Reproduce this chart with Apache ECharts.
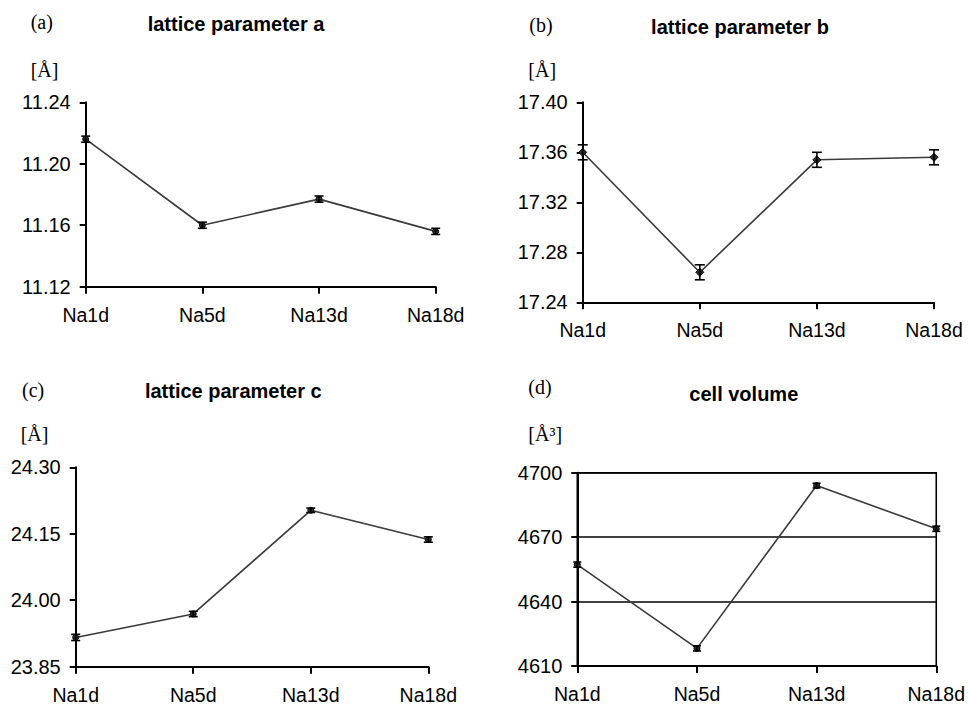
<!DOCTYPE html>
<html>
<head>
<meta charset="utf-8">
<script src="https://cdn.jsdelivr.net/npm/echarts@6/dist/echarts.min.js"></script>
<style>
  html, body { margin: 0; padding: 0; background: #fff; }
  #chart { width: 968px; height: 706px; }
</style>
</head>
<body>
<div id="chart"></div>
<script>
// Samples (x axis) shared by all four panels
const categories = ['Na1d', 'Na5d', 'Na13d', 'Na18d'];

// Lattice parameter a [Å] and its uncertainty
const latticeA = [11.216, 11.160, 11.177, 11.156];
const latticeAErr = [0.002, 0.002, 0.002, 0.002];

// Lattice parameter b [Å]
const latticeB = [17.360, 17.264, 17.354, 17.356];
const latticeBErr = [0.006, 0.006, 0.006, 0.006];

// Lattice parameter c [Å]
const latticeC = [23.916, 23.969, 24.203, 24.137];
const latticeCErr = [0.007, 0.006, 0.005, 0.006];

// Cell volume [Å³]
const cellVolume = [4657.2, 4618.2, 4694.0, 4673.9];
const cellVolumeErr = [1.2, 1.2, 1.1, 1.2];

// Value axis ranges: [min, max, interval]
const rangeA = [11.12, 11.24, 0.04];
const rangeB = [17.24, 17.40, 0.04];
const rangeC = [23.85, 24.30, 0.15];
const rangeV = [4610, 4700, 30];

const SANS = 'Liberation Sans, Arial, sans-serif';
const SERIF = 'Liberation Serif, Times New Roman, serif';

const panels = [
  { values: latticeA, errs: latticeAErr, range: rangeA, digits: 2, symbol: 'circle', size: 6, cap: 4.5,
    grid: { left: 85.7, top: 102.3, width: 350, height: 184.4 } },
  { values: latticeB, errs: latticeBErr, range: rangeB, digits: 2, symbol: 'diamond', size: 8, cap: 5,
    grid: { left: 582.7, top: 102.3, width: 351.3, height: 200 } },
  { values: latticeC, errs: latticeCErr, range: rangeC, digits: 2, symbol: 'circle', size: 6, cap: 4.5,
    grid: { left: 75.7, top: 467.3, width: 352.6, height: 199.4 } },
  { values: cellVolume, errs: cellVolumeErr, range: rangeV, digits: 0, symbol: 'circle', size: 6, cap: 4,
    grid: { left: 577.3, top: 472.7, width: 362, height: 193.3 }, boxed: true }
];

function errorBarRenderer(capHalf) {
  return function (params, api) {
    const idx = api.value(0);
    const lo = api.coord([idx, api.value(1)]);
    const hi = api.coord([idx, api.value(2)]);
    const style = { stroke: '#000', lineWidth: 1.6 };
    return {
      type: 'group',
      children: [
        { type: 'line', shape: { x1: lo[0], y1: lo[1], x2: hi[0], y2: hi[1] }, style },
        { type: 'line', shape: { x1: hi[0] - capHalf, y1: hi[1], x2: hi[0] + capHalf, y2: hi[1] }, style },
        { type: 'line', shape: { x1: lo[0] - capHalf, y1: lo[1], x2: lo[0] + capHalf, y2: lo[1] }, style }
      ]
    };
  };
}

const grids = [], xAxes = [], yAxes = [], series = [];
panels.forEach((p, i) => {
  grids.push(Object.assign({
    show: !!p.boxed,
    borderColor: '#000',
    borderWidth: 1.6,
    containLabel: false
  }, p.grid));
  xAxes.push({
    type: 'category',
    gridIndex: i,
    data: categories,
    boundaryGap: false,
    axisLine: { lineStyle: { color: '#000', width: 2 } },
    axisTick: { show: true, length: 7, inside: false, lineStyle: { color: '#000', width: 2 } },
    axisLabel: { color: '#000', fontFamily: SANS, fontSize: 19.5, margin: 18 },
    splitLine: { show: false }
  });
  yAxes.push({
    type: 'value',
    gridIndex: i,
    min: p.range[0],
    max: p.range[1],
    interval: p.range[2],
    axisLine: { show: true, lineStyle: { color: '#000', width: 2 } },
    axisTick: { show: true, length: 6, lineStyle: { color: '#000', width: 2 } },
    axisLabel: {
      color: '#000', fontFamily: SANS, fontSize: 20, margin: 15,
      formatter: v => v.toFixed(p.digits)
    },
    splitLine: { show: !!p.boxed, lineStyle: { color: '#000', width: 1.6 } }
  });
  series.push({
    type: 'line',
    xAxisIndex: i,
    yAxisIndex: i,
    data: p.values,
    symbol: p.symbol,
    symbolSize: p.size,
    showSymbol: true,
    lineStyle: { color: '#3a3a3a', width: 1.6 },
    itemStyle: { color: '#2a2a2a', borderColor: '#000', borderWidth: 1 },
    z: 3,
    animation: false
  });
  series.push({
    type: 'custom',
    xAxisIndex: i,
    yAxisIndex: i,
    data: p.values.map((v, k) => [k, v - p.errs[k], v + p.errs[k]]),
    renderItem: errorBarRenderer(p.cap),
    z: 4,
    animation: false
  });
});

// Panel letters, titles and unit labels
const labels = [
  { text: '(a)', x: 30.7, y: 22, font: SERIF, weight: 'normal', align: 'left' },
  { text: 'lattice parameter a', x: 236, y: 24, font: SANS, weight: 'bold', align: 'center' },
  { text: '[Å]', x: 30.7, y: 70, font: SERIF, weight: 'normal', align: 'left' },
  { text: '(b)', x: 529.3, y: 25, font: SERIF, weight: 'normal', align: 'left' },
  { text: 'lattice parameter b', x: 740, y: 27, font: SANS, weight: 'bold', align: 'center' },
  { text: '[Å]', x: 528.3, y: 70, font: SERIF, weight: 'normal', align: 'left' },
  { text: '(c)', x: 22, y: 390, font: SERIF, weight: 'normal', align: 'left' },
  { text: 'lattice parameter c', x: 233.3, y: 391, font: SANS, weight: 'bold', align: 'center' },
  { text: '[Å]', x: 20.7, y: 434, font: SERIF, weight: 'normal', align: 'left' },
  { text: '(d)', x: 528.3, y: 387, font: SERIF, weight: 'normal', align: 'left' },
  { text: 'cell volume', x: 743.8, y: 394, font: SANS, weight: 'bold', align: 'center' },
  { text: '[Å³]', x: 528.3, y: 434, font: SERIF, weight: 'normal', align: 'left' }
];

const graphic = labels.map(l => ({
  type: 'text',
  x: l.x,
  y: l.y,
  style: {
    text: l.text,
    fontFamily: l.font,
    fontSize: 20,
    fontWeight: l.weight,
    fill: '#000',
    textAlign: l.align,
    textVerticalAlign: 'middle'
  }
}));

const chart = echarts.init(document.getElementById('chart'), null, { renderer: 'svg' });
chart.setOption({
  animation: false,
  backgroundColor: '#fff',
  grid: grids,
  xAxis: xAxes,
  yAxis: yAxes,
  series: series,
  graphic: graphic
});
</script>
</body>
</html>
